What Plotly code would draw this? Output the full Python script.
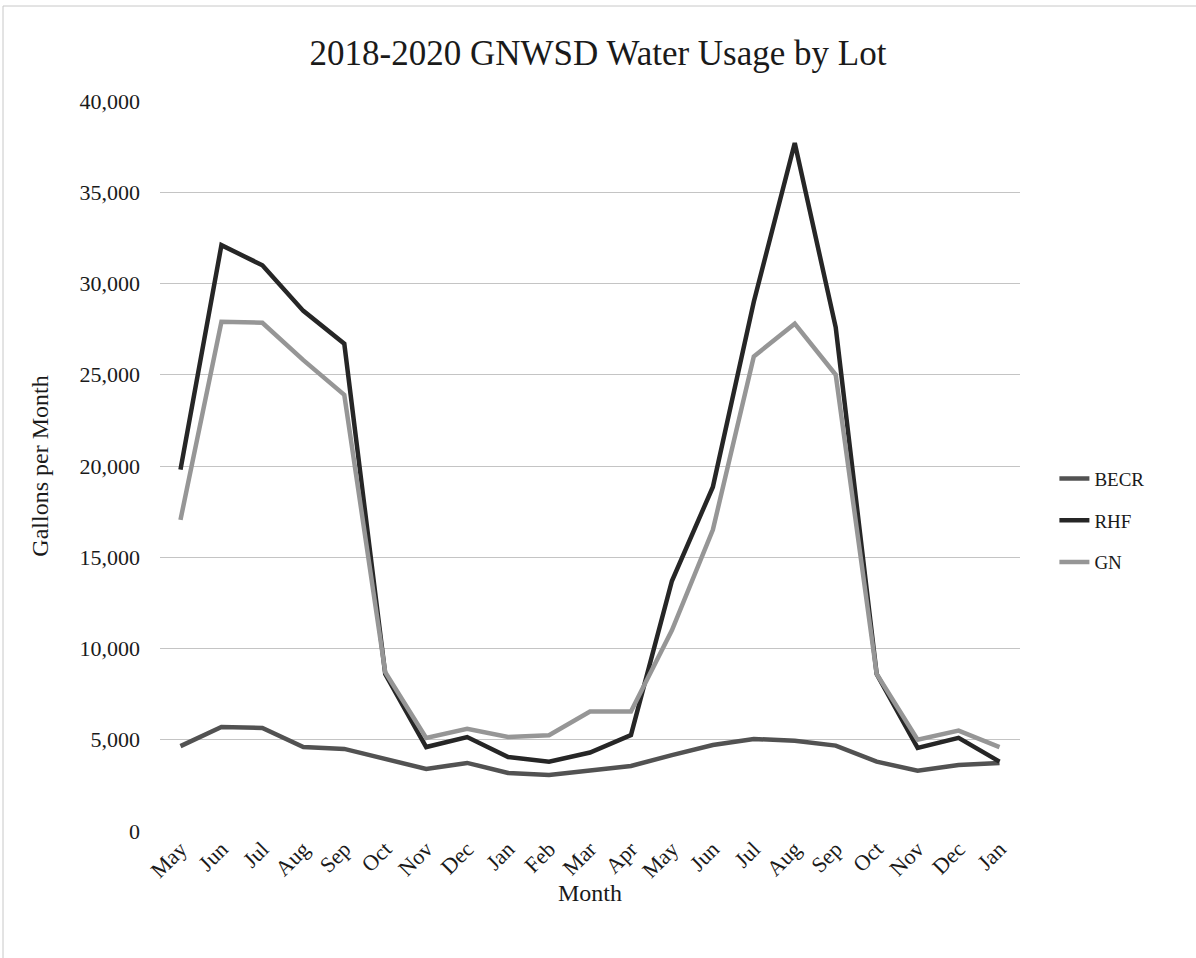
import plotly.graph_objects as go

# Monthly billing periods, May 2018 through Jan 2020
months = ["May", "Jun", "Jul", "Aug", "Sep", "Oct", "Nov", "Dec", "Jan", "Feb", "Mar",
          "Apr", "May", "Jun", "Jul", "Aug", "Sep", "Oct", "Nov", "Dec", "Jan"]

# Gallons per month for each lot
becr = [4650, 5700, 5650, 4600, 4500, 3950, 3400, 3730, 3180, 3070, 3340,
        3560, 4160, 4710, 5040, 4950, 4680, 3800, 3300, 3620, 3730]
rhf = [19800, 32100, 31000, 28500, 26700, 8600, 4600, 5150, 4050, 3800, 4300,
       5250, 13700, 18850, 29000, 37700, 27600, 8600, 4550, 5100, 3800]
gn = [17050, 27900, 27850, 25800, 23900, 8700, 5100, 5600, 5150, 5250, 6550,
      6550, 11000, 16500, 26000, 27800, 25000, 8600, 5000, 5500, 4600]

series = [("BECR", becr, "#525252"), ("RHF", rhf, "#262626"), ("GN", gn, "#969696")]

x = list(range(len(months)))
serif = "Liberation Serif, Times New Roman, serif"

fig = go.Figure()
for name, vals, color in series:
    fig.add_trace(go.Scatter(
        x=x, y=vals, name=name, mode="lines", legendgroup=name,
        line=dict(color=color, width=4.5),
    ))

fig.update_layout(
    width=1196, height=958,
    paper_bgcolor="white", plot_bgcolor="white",
    margin=dict(l=160, r=176, t=101, b=127),
    font=dict(family=serif, color="#1a1a1a", size=22),
    title=dict(text="2018-2020 GNWSD Water Usage by Lot", x=0.5, xref="container",
               y=0.945, yanchor="middle", font=dict(size=35, family=serif)),
    legend=dict(x=1.04, xanchor="left", y=0.425, yanchor="middle",
                font=dict(size=19, family=serif), tracegroupgap=14,
                traceorder="grouped", bgcolor="rgba(0,0,0,0)"),
    showlegend=True,
)

fig.update_xaxes(
    range=[-0.5, len(months) - 0.5], tickmode="array", tickvals=x, ticktext=months,
    tickangle=-45, showgrid=False, zeroline=False, showline=False, ticks="",
    tickfont=dict(size=22), title=dict(text="Month", font=dict(size=24), standoff=2),
)
fig.update_yaxes(
    range=[0, 40000], tickvals=list(range(0, 40001, 5000)), tickformat=",",
    showgrid=True, gridcolor="#c4c4c4", gridwidth=1, zeroline=False, showline=False,
    ticks="", ticklabelstandoff=19, tickfont=dict(size=22),
    title=dict(text="Gallons per Month", font=dict(size=24), standoff=24),
)

# Faint frame along the top and left edges of the page
fig.add_shape(type="line", xref="paper", yref="paper",
              x0=(3 - 160) / 860, x1=(1196 - 160) / 860,
              y0=(831 - 6) / 730, y1=(831 - 6) / 730,
              line=dict(color="#c8c8c8", width=1))
fig.add_shape(type="line", xref="paper", yref="paper",
              x0=(3 - 160) / 860, x1=(3 - 160) / 860,
              y0=(831 - 6) / 730, y1=(831 - 958) / 730,
              line=dict(color="#c8c8c8", width=1))

fig.write_html("out.html")
